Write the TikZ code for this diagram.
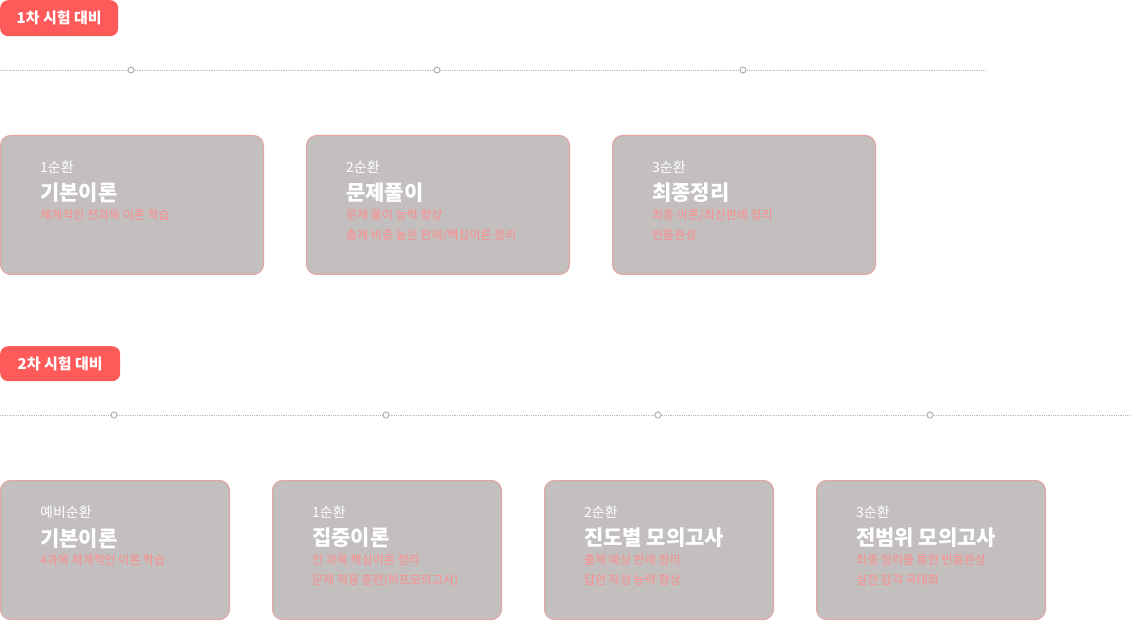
\documentclass[tikz,border=0pt]{standalone}
\usepackage{fontspec}
\setmainfont{Noto Sans CJK KR}
\usepackage{tikz}
\usetikzlibrary{positioning}
\usepackage{xcolor}
\definecolor{badgered}{RGB}{255,90,90}
\definecolor{cardgray}{RGB}{194,191,190}
\definecolor{cardedge}{RGB}{230,165,165}
\definecolor{descpink}{RGB}{255,140,140}
\definecolor{dotgray}{RGB}{185,185,185}

\tikzset{
  badge/.style={rectangle, rounded corners=8pt, fill=badgered, text=white, font=\fontsize{15}{15}\selectfont\bfseries, inner sep=0pt, anchor=north west},
  card/.style={rectangle, rounded corners=10pt, fill=cardgray, draw=cardedge, line width=1pt, minimum height=139pt, anchor=north west},
  cycle/.style={text=white, font=\fontsize{14}{14}\selectfont, anchor=north west, inner sep=0pt},
  cardtitle/.style={text=white, font=\fontsize{21}{21}\selectfont\bfseries, anchor=north west, inner sep=0pt},
  desc/.style={text=descpink, font=\fontsize{12}{20}\selectfont, align=left, anchor=north west, inner sep=0pt},
  timeline/.style={dotgray, densely dotted, line width=0.8pt},
  stopdot/.style={circle, draw=dotgray, fill=white, line width=1.2pt, minimum size=6pt, inner sep=0pt}
}

\begin{document}
\begin{tikzpicture}[x=1pt, y=-1pt]
\useasboundingbox (0,0) rectangle (1140,620);

% FIRST EXAM
\node [badge, minimum width=118pt, minimum height=36pt] (badgeA) at (0,0) {1차 시험 대비};
\coordinate (lineA_start) at (0,70);
\coordinate (lineA_end) at (985,70);
\draw [timeline] (lineA_start) -- (lineA_end);
\foreach \x/\n in {131/1, 437/2, 743/3}
  \node [stopdot] (stopA\n) at (\x,70) {};

% cards of the first exam
\node [card, minimum width=263pt] (cardA1) at (0,135) {};
\node [card, minimum width=263pt] (cardA2) at (306,135) {};
\node [card, minimum width=263pt] (cardA3) at (612,135) {};

\node [cycle] (cycA1) at ([shift={(40pt,-26pt)}]cardA1.north west) {1순환};
\node [cardtitle, below=9pt of cycA1.south west, anchor=north west] (titA1) {기본이론};
\node [desc, below=6pt of titA1.south west, anchor=north west] (desA1) {체계적인 전과목 이론 학습};

\node [cycle] (cycA2) at ([shift={(40pt,-26pt)}]cardA2.north west) {2순환};
\node [cardtitle, below=9pt of cycA2.south west, anchor=north west] (titA2) {문제풀이};
\node [desc, below=6pt of titA2.south west, anchor=north west] (desA2) {문제 풀이 능력 향상\\출제 비중 높은 판례/핵심이론 정리};

\node [cycle] (cycA3) at ([shift={(40pt,-26pt)}]cardA3.north west) {3순환};
\node [cardtitle, below=9pt of cycA3.south west, anchor=north west] (titA3) {최종정리};
\node [desc, below=6pt of titA3.south west, anchor=north west] (desA3) {최종 이론/최신판례 정리\\빈틈완성};

% SECOND EXAM
\node [badge, minimum width=120pt, minimum height=35pt] (badgeB) at (0,346) {2차 시험 대비};
\coordinate (lineB_start) at (0,415);
\coordinate (lineB_end) at (1130,415);
\draw [timeline] (lineB_start) -- (lineB_end);
\foreach \x/\n in {114/1, 386/2, 658/3, 930/4}
  \node [stopdot] (stopB\n) at (\x,415) {};

% cards of the second exam
\node [card, minimum width=229pt] (cardB1) at (0,480) {};
\node [card, minimum width=229pt] (cardB2) at (272,480) {};
\node [card, minimum width=229pt] (cardB3) at (544,480) {};
\node [card, minimum width=229pt] (cardB4) at (816,480) {};

\node [cycle] (cycB1) at ([shift={(40pt,-26pt)}]cardB1.north west) {예비순환};
\node [cardtitle, below=9pt of cycB1.south west, anchor=north west] (titB1) {기본이론};
\node [desc, below=6pt of titB1.south west, anchor=north west] (desB1) {4과목 체계적인 이론 학습};

\node [cycle] (cycB2) at ([shift={(40pt,-26pt)}]cardB2.north west) {1순환};
\node [cardtitle, below=9pt of cycB2.south west, anchor=north west] (titB2) {집중이론};
\node [desc, below=6pt of titB2.south west, anchor=north west] (desB2) {전 과목 핵심이론 정리\\문제 적용 훈련(하프모의고사)};

\node [cycle] (cycB3) at ([shift={(40pt,-26pt)}]cardB3.north west) {2순환};
\node [cardtitle, below=9pt of cycB3.south west, anchor=north west] (titB3) {진도별 모의고사};
\node [desc, below=6pt of titB3.south west, anchor=north west] (desB3) {출제 예상 판례 정리\\답안 작성 능력 향상};

\node [cycle] (cycB4) at ([shift={(40pt,-26pt)}]cardB4.north west) {3순환};
\node [cardtitle, below=9pt of cycB4.south west, anchor=north west] (titB4) {전범위 모의고사};
\node [desc, below=6pt of titB4.south west, anchor=north west] (desB4) {최종 정리를 통한 빈틈완성\\실전 감각 극대화};
\end{tikzpicture}
\end{document}
